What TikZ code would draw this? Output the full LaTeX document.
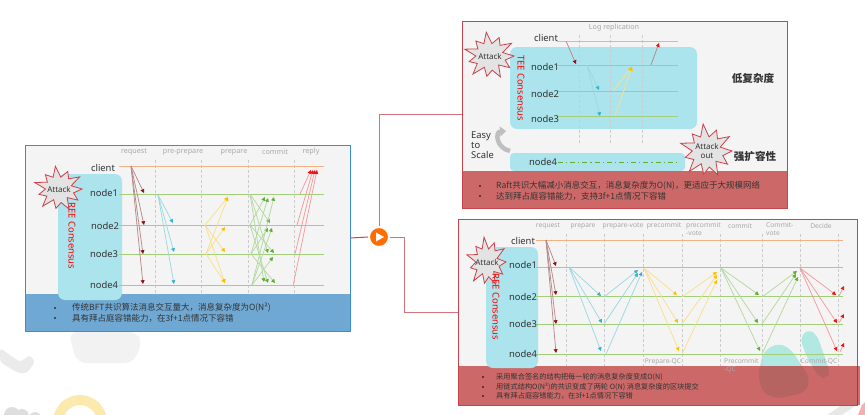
\documentclass[tikz,border=0pt]{standalone}
\usepackage{fontspec}
\setmainfont{Noto Sans}
\newfontfamily\cjk{Noto Sans CJK SC}
\usepackage{xcolor}
\usetikzlibrary{arrows.meta,calc,positioning}
\definecolor{panelgray}{HTML}{F4F4F4}
\definecolor{bandblue}{HTML}{6FA8D3}
\definecolor{bordblue}{HTML}{3D8CCB}
\definecolor{bandred}{HTML}{B71E1E}
\definecolor{bordred}{HTML}{C8434B}
\definecolor{linkred}{HTML}{D9737B}
\definecolor{boxcyan}{HTML}{ABE4EC}
\definecolor{blobteal}{HTML}{B2E8E2}
\definecolor{lineorange}{HTML}{F4B183}
\definecolor{linegreen}{HTML}{A3CF7C}
\definecolor{headgray}{HTML}{A8A8A8}
\definecolor{txtdark}{HTML}{333333}
\definecolor{brownline}{HTML}{B58A8A}
\definecolor{brownhead}{HTML}{8B1414}
\definecolor{cyanline}{HTML}{9BD8E2}
\definecolor{cyanhead}{HTML}{35B4D0}
\definecolor{yellowline}{HTML}{F9E08C}
\definecolor{yellowhead}{HTML}{FFC000}
\definecolor{greenline}{HTML}{B4D9A0}
\definecolor{greenhead}{HTML}{5FAE2E}
\definecolor{redline}{HTML}{F59A9A}
\definecolor{redhead}{HTML}{F01010}
\tikzset{
  panelbox/.style={draw=#1,line width=1pt,fill=panelgray,inner sep=0pt},
  cyanbox/.style={fill=boxcyan,rounded corners=7pt,inner sep=0pt},
  nodelbl/.style={font=\fontsize{9.4}{10}\selectfont,text=txtdark,inner sep=0pt},
  headlbl/.style={font=\fontsize{7.2}{8.6}\selectfont,text=headgray,inner sep=0pt},
  hothead/.style={font=\fontsize{6.7}{8.4}\selectfont,text=headgray,inner sep=0pt},
  bandtxt/.style={font=\cjk\fontsize{8.5}{9}\selectfont,text=txtdark,anchor=west,inner sep=0pt},
  hottxt/.style={font=\cjk\fontsize{7.2}{9}\selectfont,text=txtdark,anchor=west,inner sep=0pt},
  bigtxt/.style={font=\cjk\bfseries\fontsize{10.6}{12}\selectfont,text=txtdark,inner sep=0pt},
  vertlbl/.style={font=\bfseries\fontsize{9.4}{10}\selectfont,text=red,rotate=-90,inner sep=0pt},
  nodeline/.style={draw=linegreen,line width=1pt},
  clientline/.style={draw=lineorange,line width=1pt},
  sepline/.style={draw=black!20,densely dashed,line width=.6pt},
  msgline/.style 2 args={draw=#1,line width=.75pt,-{Triangle[length=3.8pt,width=3.8pt,color=#2]}},
  msgbrown/.style={msgline={brownline}{brownhead}},
  msgcyan/.style={msgline={cyanline}{cyanhead}},
  msgyellow/.style={msgline={yellowline}{yellowhead}},
  msggreen/.style={msgline={greenline}{greenhead}},
  msgred/.style={msgline={redline}{redhead}},
  burstline/.style={draw=bordred,fill=black!11,line width=.8pt,line join=miter},
  linkline/.style={draw=linkred,line width=1pt},
}
\newcommand{\burst}[6]{\begin{scope}[shift={(#2,#3)}]
  \draw[burstline] plot[samples at={0,1,...,21},variable=\t]
    ({#4*(1-0.4*mod(\t,2))*(1+0.1*sin(\t*97))*cos(\t*360/22)},{#5*(1-0.4*mod(\t,2))*(1+0.1*sin(\t*97))*sin(\t*360/22)}) -- cycle;
  \end{scope}
  \node[font=\fontsize{8}{9.5}\selectfont,text=txtdark,align=center,inner sep=0pt] (#1) at (#2,#3) {#6};}
\begin{document}
\begin{tikzpicture}[x=1pt,y=-1pt]
\useasboundingbox (0,0) rectangle (865,415);
% backdrop
\fill[black!5,rounded corners=8pt] (69,332)--(137,332)--(142,343)--(133,363)--(78,363)--(73,350)--cycle;
\fill[black!8,rounded corners=3pt] (0,348)--(20,362)--(30,355)--(35,362)--(27,373)--(18,373)--(0,362)--cycle;
\draw[yellowline!70!white,line width=10pt] (80,422) circle (22);
\fill[black!13] (12,415) circle (8) (22,416) circle (7) (35,418) circle (6);
\fill[black!9] (827,415)--(845,403)--(855,400)--(858,404)--(842,415)--cycle;
\fill[redline!80!white] (862,405)--(865,402)--(865,415)--(858,415)--cycle;
% ree panel
\node[panelbox=bordblue,minimum width=325pt,minimum height=186pt] (reepanel) at (187.5,238) {};
\fill[bandblue] (25.5,294) rectangle (349.5,330.5);
\node[cyanbox,minimum width=64pt,minimum height=126pt] (reebox) at (90,237) {};
\foreach \x in {155,201,248,294} \draw[sepline] (\x,160)--(\x,294);
\foreach \n/\x in {request/134,pre-prepare/183,prepare/234,commit/275,reply/311}
  \node[headlbl] (ree\n) at (\x,152) {\n};
\draw[clientline] (119,166)--(324,166);
\foreach \y in {194,225,254,285} \draw[nodeline] (119,\y)--(324,\y);
\foreach \n/\x/\y in {client/103/168,node1/104/193,node2/105/226,node3/104/254,node4/104/285}
  \node[nodelbl] (ree\n) at (\x,\y) {\n};
\foreach \x/\y in {144/193,144/225,143/254,143/284} \draw[msgbrown] (131,166)--(\x,\y);
\foreach \x/\y in {173/223,174/252,174/284} \draw[msgcyan] (158,195)--(\x,\y);
\foreach \x/\y in {228/197,225/252,225/283} \draw[msgyellow] (205,225)--(\x,\y);
\foreach \x/\y in {228/197,225/227,225/283} \draw[msgyellow] (206,254)--(\x,\y);
\foreach \x/\y in {270/223,268/253,264/282} \draw[msggreen] (250,194)--(\x,\y);
\foreach \x/\y in {265/197,274/253,268/283} \draw[msggreen] (250,225)--(\x,\y);
\foreach \x/\y in {268/198,268/228,275/283} \draw[msggreen] (251,254)--(\x,\y);
\foreach \x/\y in {274/197,272/228,273/257} \draw[msggreen] (252,285)--(\x,\y);
\foreach \a/\b/\x in {300/194/311,297/225/313,295/254/315,293/286/317} \draw[msgred] (\a,\b)--(\x,170);
\burst{reeattack}{59}{189}{23}{21}{Attack}
\node[vertlbl] (reelbl) at (72,236) {REE Consensus};
\node[bandtxt] (reeline1) at (72,308) {传统BFT共识算法消息交互量大，消息复杂度为O(N²)};
\node[bandtxt] (reeline2) at (72,318) {具有拜占庭容错能力，在3f+1点情况下容错};
\foreach \y in {308,318} \fill[black] (55,\y) circle (.9);
% tee panel
\node[panelbox=bordred,minimum width=325pt,minimum height=187pt] (teepanel) at (624.5,114.5) {};
\node[cyanbox,minimum width=187pt,minimum height=82pt] (teebox) at (603.5,88) {};
\node[cyanbox,rounded corners=4pt,minimum width=175pt,minimum height=18pt] (scalebox) at (597.5,162) {};
\fill[bandred,opacity=.65] (462.5,171) rectangle (786.5,207.5);
\node[headlbl] (teehead) at (614,28) {Log replication};
\foreach \x in {579,610,642} \draw[sepline] (\x,35)--(\x,145);
\draw[clientline] (557,41)--(678,41);
\foreach \y in {65,91,116} \draw[nodeline] (557,\y)--(678,\y);
\draw[nodeline,dash pattern=on 5pt off 3pt on 1.2pt off 3pt,draw=greenhead] (558,162)--(680,162);
\foreach \n/\x/\y in {client/546/38,node1/545/67,node2/545/94,node3/545/119,node4/543/162}
  \node[nodelbl] (tee\n) at (\x,\y) {\n};
\draw[msgbrown] (566,41)--(576,64);
\foreach \x/\y in {599/90,600/116} \draw[msgcyan] (587,65)--(\x,\y);
\foreach \x/\y in {613/91,615/116} \draw[msgyellow] (\x,\y)--(632,67);
\draw[msgline={brownline}{redhead}] (651,65)--(659,43);
\burst{teeattack}{490}{56}{24}{22}{Attack}
\node[vertlbl] (teelbl) at (521,88) {TEE Consensus};
\burst{attackout}{707}{151}{25}{25}{Attack\\out}
\node[nodelbl,align=left,anchor=west] (easylbl) at (471,145) {Easy\\to\\Scale};
\draw[black!25,line width=4.5pt,-{Triangle[length=6pt,width=10pt]}] (510,151) .. controls (496,148) and (495,132) .. (506,131);
\node[bigtxt] (lowlbl) at (753,78) {低复杂度};
\node[bigtxt] (scalelbl) at (755,156) {强扩容性};
\node[bandtxt] (teeline1) at (496,186) {Raft共识大幅减小消息交互，消息复杂度为O(N)，更适应于大规模网络};
\node[bandtxt] (teeline2) at (496,196) {达到拜占庭容错能力，支持3f+1点情况下容错};
\foreach \y in {186,196} \fill[black] (480,\y) circle (.9);
% hot panel
\node[panelbox=bordred,minimum width=399pt,minimum height=186pt] (hotpanel) at (657.5,312) {};
\fill[blobteal,rounded corners=7pt] (763,352)--(777,343)--(790,348)--(810,378)--(806,392)--(777,399)--(762,392)--(758,375)--cycle;
\fill[blobteal,rounded corners=6pt] (800,338)--(808,329)--(817,335)--(830,372)--(827,378)--(820,378)--(807,358)--cycle;
\fill[bandred,opacity=.65] (458.5,366) rectangle (860,404.5);
\node[cyanbox,minimum width=52pt,minimum height=121pt] (hotbox) at (512,307.5) {};
\foreach \x in {566,604,643,682,720,762,800,838} \draw[sepline] (\x,234)--(\x,366);
\foreach \n/\x in {request/548,prepare/583,prepare-vote/623,precommit/664,commit/740,Decide/821}
  \node[hothead] (hot\n) at (\x,226) {\n};
\node[hothead,align=left,anchor=north west] (hotprevote) at (686,222) {precommit\\-vote};
\node[hothead,align=left,anchor=north west] (hotcomvote) at (766,222) {Commit-\\vote};
\node[hothead] (hotpreqc) at (663,362) {Prepare-QC};
\node[hothead,align=left,anchor=north west] (hotprecommitqc) at (724,358) {Precommit\\-QC};
\node[hothead] (hotcomqc) at (819,362) {Commit-QC};
\draw[clientline] (536,240)--(843,240);
\foreach \y in {267,296,324,354} \draw[nodeline] (536,\y)--(843,\y);
\foreach \n/\x/\y in {client/523/241,node1/523/265,node2/523/297,node3/523/324,node4/523/354}
  \node[nodelbl] (hot\n) at (\x,\y) {\n};
\foreach \y in {266,295,324,353} \draw[msgbrown] (546,240)--(556,\y);
\foreach \x/\y in {601/296,602/323,601/351} \draw[msgcyan] (569,267)--(\x,\y);
\foreach \a/\b/\x/\y in {604/297/638/270,604/324/638/273,606/354/642/272} \draw[msgcyan] (\a,\b)--(\x,\y);
\foreach \x/\y in {677/295,678/323,679/351} \draw[msgyellow] (644,268)--(\x,\y);
\foreach \b/\y in {297/272,324/275,354/280} \draw[msgyellow] (682,\b)--(717,\y);
\foreach \x/\y in {759/295,758/323,760/351} \draw[msggreen] (721,268)--(\x,\y);
\foreach \b/\x/\y in {297/797/271,324/796/274,354/798/277} \draw[msggreen] (762,\b)--(\x,\y);
\foreach \x/\y in {836/295,837/323,837/351} \draw[msgred] (800,268)--(\x,\y);
\foreach \a/\b/\y in {839/296/286,839/323/314,840/352/343} \draw[msgred] (\a,\b)--(844,\y);
\burst{hotattack}{487}{262}{19}{23}{Attack}
\node[vertlbl] (hotlbl) at (496,307) {REE Consensus};
\node[hottxt] (hotline1) at (496,377) {采用聚合签名的结构把每一轮的消息复杂度变成O(N)};
\node[hottxt] (hotline2) at (496,387) {用链式结构O(N²)的共识变成了两轮 O(N) 消息复杂度的区块提交};
\node[hottxt] (hotline3) at (496,396) {具有拜占庭容错能力，在3f+1点情况下容错};
\foreach \y in {377,387,396} \fill[black] (483,\y) circle (.9);
% links
\node[circle,fill=orange!85!red,draw=white,line width=2pt,minimum size=20pt,inner sep=0pt] (playbtn) at (379,237) {};
\fill[white] (376,232.5)--(384,237)--(376,241.5)--cycle;
\coordinate (turn) at (404,237);
\draw[draw=bordred,line width=1pt] (reepanel.east)--(playbtn.west);
\draw[linkline] (playbtn.north)|-(teepanel.west);
\draw[linkline] (playbtn.east)--(turn)|-(hotpanel.west);
\end{tikzpicture}
\end{document}
